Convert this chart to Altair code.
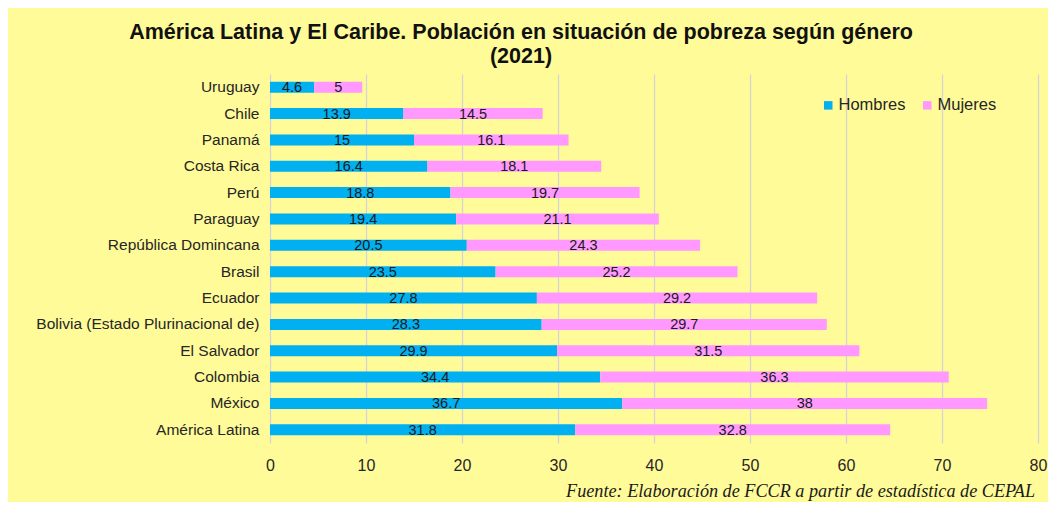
import altair as alt
import pandas as pd

countries = ["Uruguay", "Chile", "Panamá", "Costa Rica", "Perú", "Paraguay",
             "República Domincana", "Brasil", "Ecuador",
             "Bolivia (Estado Plurinacional de)", "El Salvador", "Colombia",
             "México", "América Latina"]
hombres = [4.6, 13.9, 15, 16.4, 18.8, 19.4, 20.5, 23.5, 27.8, 28.3, 29.9, 34.4, 36.7, 31.8]
mujeres = [5, 14.5, 16.1, 18.1, 19.7, 21.1, 24.3, 25.2, 29.2, 29.7, 31.5, 36.3, 38, 32.8]
series = ["Hombres", "Mujeres"]
colors = ["#00B0F0", "#FF99FF"]

rows = []
for c, h, m in zip(countries, hombres, mujeres):
    rows.append({"pais": c, "genero": "Hombres", "valor": h, "orden": 0, "label": f"{h:g}"})
    rows.append({"pais": c, "genero": "Mujeres", "valor": m, "orden": 1, "label": f"{m:g}"})
df = pd.DataFrame(rows)

FONT = "Liberation Sans"

base = alt.Chart(df).transform_stack(
    stack="valor", groupby=["pais"], as_=["x0", "x1"],
    sort=[alt.SortField("orden", order="ascending")]
).transform_calculate(mid="(datum.x0 + datum.x1) / 2")

y_enc = alt.Y("pais:N", sort=countries, title=None,
              axis=alt.Axis(ticks=False, domain=False, labelFontSize=15.5,
                            labelColor="#262626", labelFont=FONT, labelPadding=11,
                            labelLimit=400))

bars = base.mark_bar(size=11).encode(
    x=alt.X("x0:Q", title=None,
            scale=alt.Scale(domain=[0, 80], nice=False),
            axis=alt.Axis(values=list(range(0, 81, 10)), ticks=False, domain=False,
                          labelFlush=False,
                          labelFontSize=16, labelColor="#262626", labelFont=FONT,
                          labelPadding=14, gridColor="#D4D4D4", gridWidth=1.3)),
    x2="x1:Q",
    y=y_enc,
    color=alt.Color("genero:N", scale=alt.Scale(domain=series, range=colors),
                    title=None,
                    legend=alt.Legend(orient="none", legendX=550, legendY=23,
                                      direction="horizontal", symbolType="square",
                                      symbolSize=72, symbolStrokeWidth=0,
                                      labelFontSize=16.5, labelFont=FONT,
                                      labelColor="#262626", columnPadding=13,
                                      symbolOffset=0, labelOffset=2)),
)

labels = base.mark_text(fontSize=14.5, font=FONT, color="#1a1a1a", baseline="middle", dy=1).encode(
    x="mid:Q",
    y=alt.Y("pais:N", sort=countries),
    text="label:N",
)

source = alt.Chart(pd.DataFrame({"t": ["Fuente: Elaboración de FCCR a partir de estadística de CEPAL"]})).mark_text(
    font="Liberation Serif", fontStyle="italic", fontSize=18.2, align="right",
    baseline="alphabetic", color="#1a1a1a"
).encode(text="t:N", x=alt.value(765), y=alt.value(423))

chart = alt.layer(bars, labels, source).properties(
    width=768, height=369,
    title=alt.TitleParams(
        text=["América Latina y El Caribe. Población en situación de pobreza según género", "(2021)"],
        fontSize=21.5, font=FONT, fontWeight="bold", color="#111111",
        anchor="middle", dx=-133, offset=7, lineHeight=24),
    autosize=alt.AutoSizeParams(type="none"),
    padding={"left": 262, "top": 66, "right": 10, "bottom": 59},
    background="#FFFB99",
).configure_view(stroke=None).configure_axisY(grid=False)

chart.save("out.html", embed_options={"renderer": "svg", "actions": False})
